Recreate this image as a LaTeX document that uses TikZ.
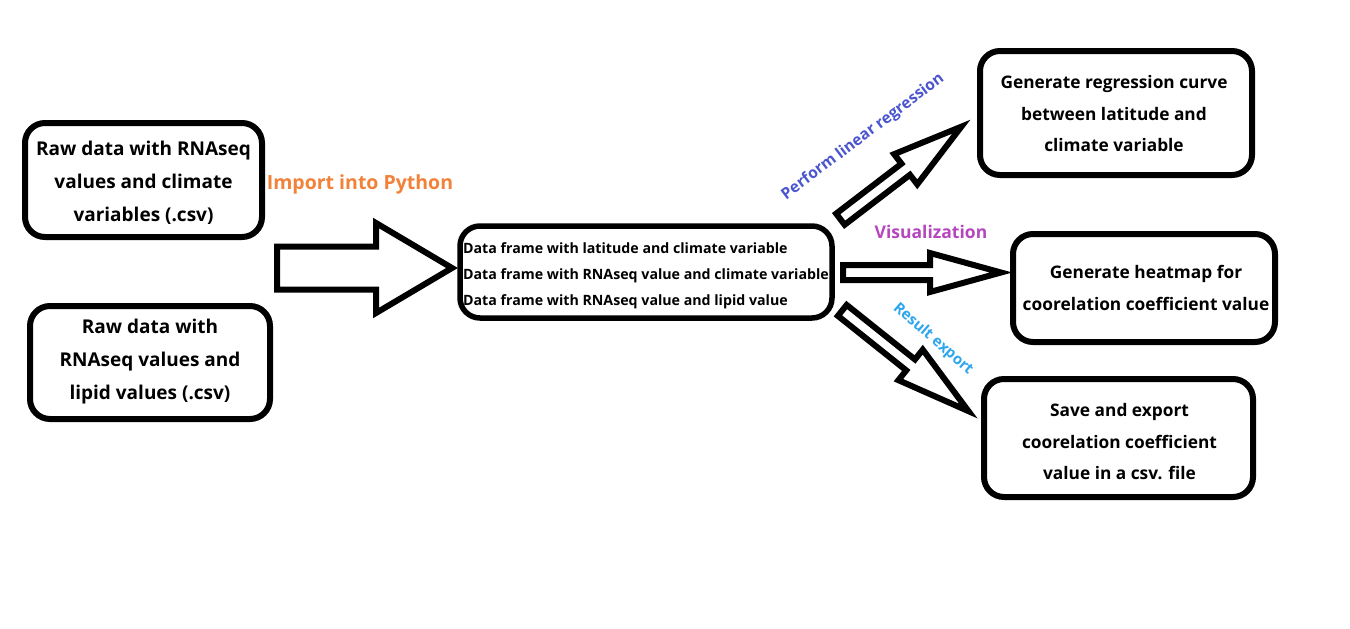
\documentclass[tikz,border=0pt]{standalone}
\usepackage{fontspec}
\setmainfont{Open Sans}
\usetikzlibrary{calc}
\definecolor{orangeC}{HTML}{F28139}
\definecolor{purpleC}{HTML}{B646BE}
\definecolor{blueC}{HTML}{4A55CF}
\definecolor{skyC}{HTML}{2EA6EE}
\tikzset{
  box/.style={draw=black, line width=6pt, rounded corners=20pt, fill=white, inner sep=0pt},
  smallbox/.style={box, line width=5.5pt},
  btext/.style={align=center, inner sep=0pt, font=\bfseries\fontsize{17.3}{31.5}\selectfont},
  bigtext/.style={btext, font=\bfseries\fontsize{19}{33}\selectfont},
  smalltext/.style={btext, align=left, font=\bfseries\fontsize{14.2}{26}\selectfont},
  arrowline/.style={draw=black, line width=6pt, line join=miter, fill=white},
  lbl/.style={inner sep=0pt, font=\bfseries\fontsize{19.5}{22}\selectfont}
}
\newcommand\blockarrow[5]{%
  \path let \p1=($(#2)-(#1)$) in \pgfextra{%
    \pgfmathsetmacro\baTmpA{atan2(\y1,\x1)}%
    \pgfmathsetmacro\baTmpL{veclen(\x1,\y1)}%
    \xdef\barang{\baTmpA}\xdef\barlen{\baTmpL}};
  \begin{scope}[shift={(#1)},rotate=\barang]
    \draw[arrowline] (0pt,-#3pt) -- ({\barlen pt-#5pt},-#3pt) -- ({\barlen pt-#5pt},-#4pt)
      -- ({\barlen pt},0pt) -- ({\barlen pt-#5pt},#4pt) -- ({\barlen pt-#5pt},#3pt)
      -- (0pt,#3pt) -- cycle;
  \end{scope}}
\begin{document}
\begin{tikzpicture}[x=1pt,y=-1pt]
\fill[white] (0,0) rectangle (1350,629);
\useasboundingbox (0,0) rectangle (1350,629);

\node[box, minimum width=237pt, minimum height=114pt] (A) at (143.5,180) {};
\node[bigtext] (Atext) at ($(A)+(0,3)$) {Raw data with RNAseq\\values and climate\\variables (.csv)};
\node[box, minimum width=240pt, minimum height=113pt] (B) at (150,362.5) {};
\node[bigtext] (Btext) at ($(B)+(0,-1)$) {Raw data with\\RNAseq values and\\lipid values (.csv)};
\node[smallbox, minimum width=372pt, minimum height=92pt] (C) at (646,272) {};
\node[smalltext] (Ctext) at ($(C)+(0,4)$) {Data frame with latitude and climate variable\\Data frame with RNAseq value and climate variable\\Data frame with RNAseq value and lipid value};
\node[box, minimum width=272pt, minimum height=124pt] (D) at (1116,113) {};
\node[btext] (Dtext) at ($(D)+(-2,1)$) {Generate regression curve\\between latitude and\\climate variable};
\node[box, minimum width=262pt, minimum height=108pt] (E) at (1144,288) {};
\node[btext] (Etext) at ($(E)+(2,0)$) {Generate heatmap for\\coorelation coefficient value};
\node[box, minimum width=269pt, minimum height=118pt] (F) at (1118.5,438) {};
\node[btext] (Ftext) at ($(F)+(1,4)$) {Save and export\\coorelation coefficient\\value in a csv. file};

\coordinate (impT) at (277,268);
\coordinate (impH) at (452,268);
\coordinate (regT) at (840.4,219.2);
\coordinate (regH) at (961.3,126.7);
\coordinate (visT) at (843,272.5);
\coordinate (visH) at (1001,272.5);
\coordinate (expT) at (842.3,310.4);
\coordinate (expH) at (968.4,411.1);

\blockarrow{impT}{impH}{21.5}{45}{76}
\blockarrow{regT}{regH}{7}{19}{70}
\blockarrow{visT}{visH}{7.5}{19.5}{71}
\blockarrow{expT}{expH}{7}{19.5}{74}

\node[lbl, text=orangeC] (limp) at (360,184) {Import into Python};
\node[lbl, text=purpleC, font=\bfseries\fontsize{17.5}{20}\selectfont] (lvis) at (931,232) {Visualization};
\node[lbl, text=blueC, rotate=37, font=\bfseries\fontsize{15.6}{18}\selectfont] (lreg) at (863,137) {Perform linear regression};
\node[lbl, text=skyC, rotate=-41, font=\bfseries\fontsize{15}{18}\selectfont] (lexp) at (933,339) {Result export};
\end{tikzpicture}
\end{document}
